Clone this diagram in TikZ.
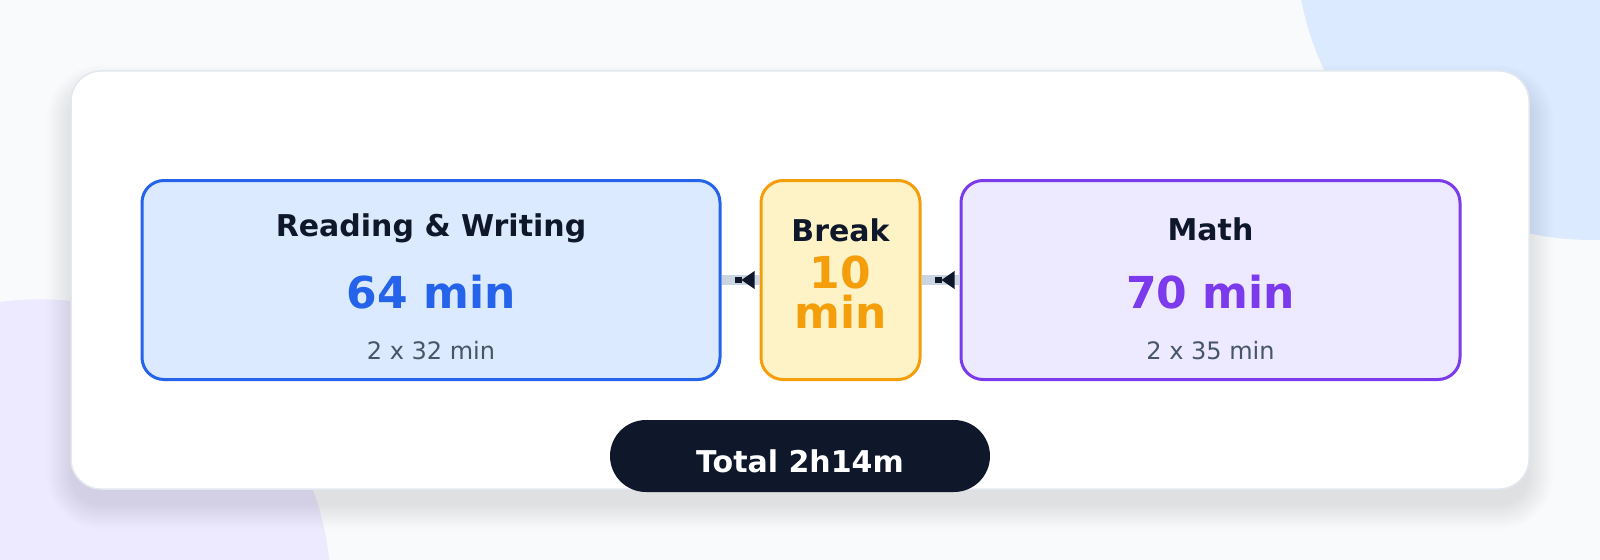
\documentclass[tikz,border=0pt]{standalone}
\usepackage{fontspec}
\setmainfont{DejaVu Sans}
\usepackage{tikz}
\usetikzlibrary{arrows.meta}
\usetikzlibrary{positioning, decorations, decorations.markings}

\def\PX{0.75pt}
\definecolor{bgSlate}{HTML}{F8FAFC}
\definecolor{blobBlue}{HTML}{DBEAFE}
\definecolor{blobViolet}{HTML}{EDE9FE}
\definecolor{cardLine}{HTML}{E2E8F0}
\definecolor{inkNavy}{HTML}{0F172A}
\definecolor{inkSlate}{HTML}{475569}
\definecolor{linkGray}{HTML}{CBD5E1}
\definecolor{rwBlue}{HTML}{2563EB}
\definecolor{rwFill}{HTML}{DBEAFE}
\definecolor{brkOrange}{HTML}{F59E0B}
\definecolor{brkFill}{HTML}{FEF3C7}
\definecolor{mathViolet}{HTML}{7C3AED}
\definecolor{mathFill}{HTML}{EDE9FE}

\newcommand\ttlFont{\fontsize{22.5pt}{26pt}\selectfont\bfseries}
\newcommand\bigFont{\fontsize{33pt}{38pt}\selectfont\bfseries}
\newcommand\subFont{\fontsize{18pt}{22pt}\selectfont}

\tikzset{
    card/.style={
        draw=cardLine, fill=white, line width=1.5*\PX,
        rounded corners=30*\PX, minimum width=1458*\PX, minimum height=418*\PX
    },
    haze/.style={fill=inkNavy, fill opacity=0.008},
    box/.style args={#1 #2}{
        draw=#1, fill=#2, line width=3*\PX,
        rounded corners=22*\PX, minimum height=199*\PX, inner sep=0pt
    },
    pill/.style={
        fill=inkNavy, rounded corners=36*\PX, minimum width=380*\PX, minimum height=72*\PX, inner sep=0pt
    },
    ttl/.style={anchor=base, inner sep=0pt, text=inkNavy, font=\ttlFont},
    big/.style={anchor=base, inner sep=0pt, text=#1, font=\bigFont},
    sub/.style={anchor=base, inner sep=0pt, text=inkSlate, font=\subFont},
    totTxt/.style={anchor=base, inner sep=0pt, text=white, font=\ttlFont}
}
\tikzset{
    link/.style={
        draw=linkGray, line width=10*\PX,
        decoration={
            markings,
            mark= at position -3.75pt with
                {
                    \fill[inkNavy] (0,-9) -- (0,9) -- (-13,0) -- cycle;
                    \fill[inkNavy] (-20,-3) rectangle (-13,3);
                },
        },
        postaction={decorate}
    }
}

\begin{document}
\begin{tikzpicture}[x=\PX, y=-\PX]
    \fill[bgSlate] (0,0) rectangle (1600,560);
    \useasboundingbox (0,0) rectangle (1600,560);
    \begin{scope}
    \clip (0,0) rectangle (1600,560);
    \fill[blobBlue] (1592,-56) circle[radius=222pt];
    \fill[blobViolet] (40,590) circle[radius=218pt];
    \end{scope}

    % soft shadow under the card
    \foreach \e in {0,2,...,24}
        \fill[haze, rounded corners=(30+\e)*\PX] (71-\e,89-\e) rectangle (1529+\e,505+\e);

    \node[card] (panel) at (800,280) {};

    \node[box={rwBlue rwFill}, minimum width=578*\PX] (rw) at (431,280) {};
    \node[box={brkOrange brkFill}, minimum width=159*\PX] (brk) at (840.5,280) {};
    \node[box={mathViolet mathFill}, minimum width=499*\PX] (math) at (1210.5,280) {};

    \draw[link] (rw) -- (brk);
    \draw[link] (brk) -- (math);

    \node[ttl] (rwT) at (431,236) {Reading \& Writing};
    \node[big=rwBlue] (rwV) at (431,308) {64 min};
    \node[sub] (rwS) at (431,359) {2 x 32 min};

    \node[ttl] (brkT) at (840.5,241) {Break};
    \node[big=brkOrange] (brkV) at (840.5,288) {10};
    \node[big=brkOrange] (brkU) at (840.5,328) {min};

    \node[ttl] (mathT) at (1210.5,240) {Math};
    \node[big=mathViolet] (mathV) at (1210.5,308) {70 min};
    \node[sub] (mathS) at (1210.5,359) {2 x 35 min};

    \node[pill] (tot) at (800,456) {};
    \node[totTxt] (totT) at (800,472) {Total 2h14m};
\end{tikzpicture}
\end{document}
